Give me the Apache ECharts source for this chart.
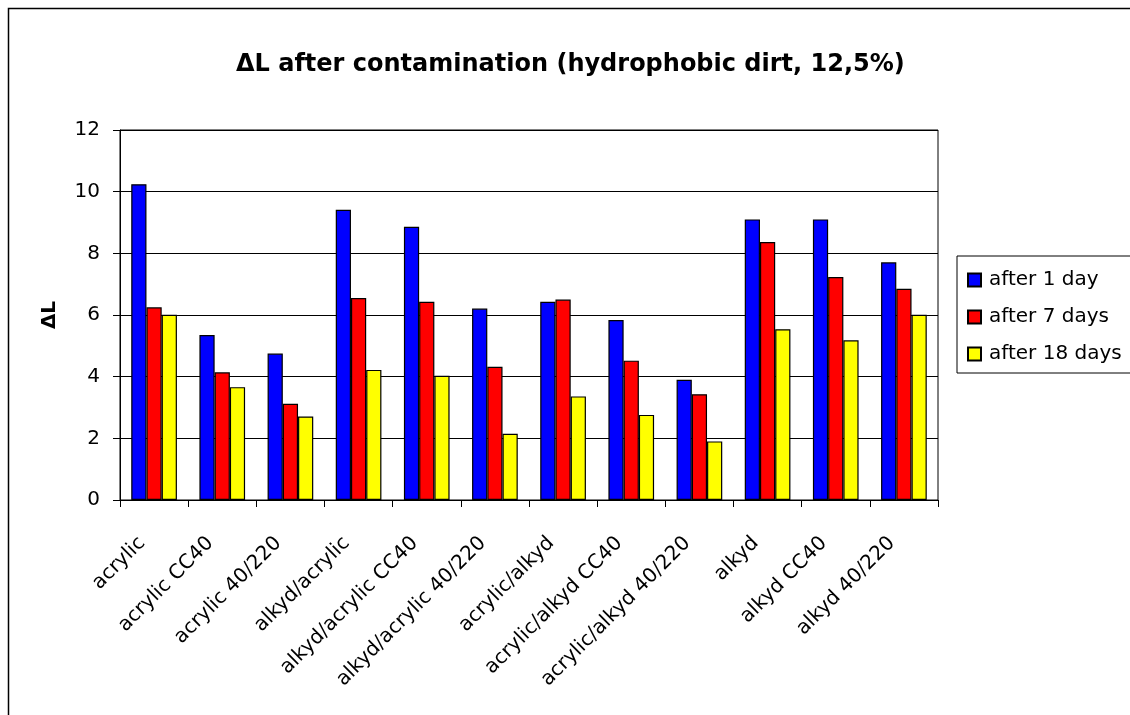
<!DOCTYPE html>
<html>
<head>
<meta charset="utf-8">
<script src="https://cdn.jsdelivr.net/npm/echarts@6/dist/echarts.min.js"></script>
<style>
  body{margin:0;background:#fff;}
  #main{width:1130px;height:715px;}
</style>
</head>
<body>
<div id="main"></div>
<script>
var categories=['acrylic','acrylic CC40','acrylic 40/220','alkyd/acrylic','alkyd/acrylic CC40','alkyd/acrylic 40/220','acrylic/alkyd','acrylic/alkyd CC40','acrylic/alkyd 40/220','alkyd','alkyd CC40','alkyd 40/220']
var day1=[10.24,5.35,4.75,9.41,8.86,6.21,6.43,5.84,3.90,9.10,9.10,7.71]
var day7=[6.25,4.14,3.12,6.55,6.43,4.32,6.50,4.52,3.43,8.37,7.23,6.85]
var day18=[6.01,3.66,2.71,4.22,4.03,2.15,3.36,2.76,1.90,5.54,5.18,6.01]
var seriesNames=['after 1 day','after 7 days','after 18 days']

// the original is a bit wide-set, DejaVu matches its widths better than Arial
var font='"DejaVu Sans", sans-serif'
var chart=echarts.init(document.getElementById('main'))

function bar(name,data,color){
	return {
		name:name,
		type:'bar',
		data:data,
		barGap:'0%',
		barCategoryGap:'33%',
		itemStyle:{color:color,borderColor:'#000',borderWidth:1.2}
	}
}

var option={
	backgroundColor:'#fff',
	animation:false,
	textStyle:{fontFamily:font},
	title:{
		text:'ΔL after contamination (hydrophobic dirt, 12,5%)',
		left:231,
		top:48,
		textStyle:{fontFamily:font,fontSize:24,fontWeight:'bold',color:'#000'}
	},
	legend:{
		data:seriesNames,
		orient:'vertical',
		icon:'rect',
		left:957,
		top:256,
		padding:[14,40,9,10],
		itemGap:17,
		itemWidth:13,
		itemHeight:13,
		borderColor:'#000',
		borderWidth:1,
		textStyle:{fontFamily:font,fontSize:20,color:'#000',padding:[0,0,0,3]}
	},
	grid:{
		left:120,
		right:192,
		top:130,
		bottom:215,
		show:true,
		borderColor:'#000',
		borderWidth:1
	},
	xAxis:{
		type:'category',
		data:categories,
		axisLine:{lineStyle:{color:'#000',width:1}},
		axisTick:{show:true,length:7,interval:0,lineStyle:{color:'#000'}},
		axisLabel:{
			interval:0,
			rotate:45,
			margin:28,
			padding:[0,17,0,0],
			color:'#000',
			fontFamily:font,
			fontSize:20
		}
	},
	yAxis:{
		type:'value',
		min:0,
		max:12,
		interval:2,
		name:'ΔL',
		nameLocation:'middle',
		nameGap:60,
		nameTextStyle:{fontFamily:font,fontSize:20,fontWeight:'bold',color:'#000'},
		axisLine:{show:true,lineStyle:{color:'#000',width:1}},
		axisTick:{show:true,length:7,lineStyle:{color:'#000'}},
		axisLabel:{color:'#000',fontFamily:font,fontSize:20,margin:20},
		splitLine:{show:true,lineStyle:{color:'#000',width:1,type:'solid'}}
	},
	graphic:[{
		type:'rect',
		z:-1,
		shape:{x:8.5,y:8.5,width:1200,height:800},
		style:{fill:'none',stroke:'#000',lineWidth:1.5}
	}],
	series:[
		bar(seriesNames[0],day1,'#0000ff'),
		bar(seriesNames[1],day7,'#ff0000'),
		bar(seriesNames[2],day18,'#ffff00')
	]
}

chart.setOption(option)
</script>
</body>
</html>
